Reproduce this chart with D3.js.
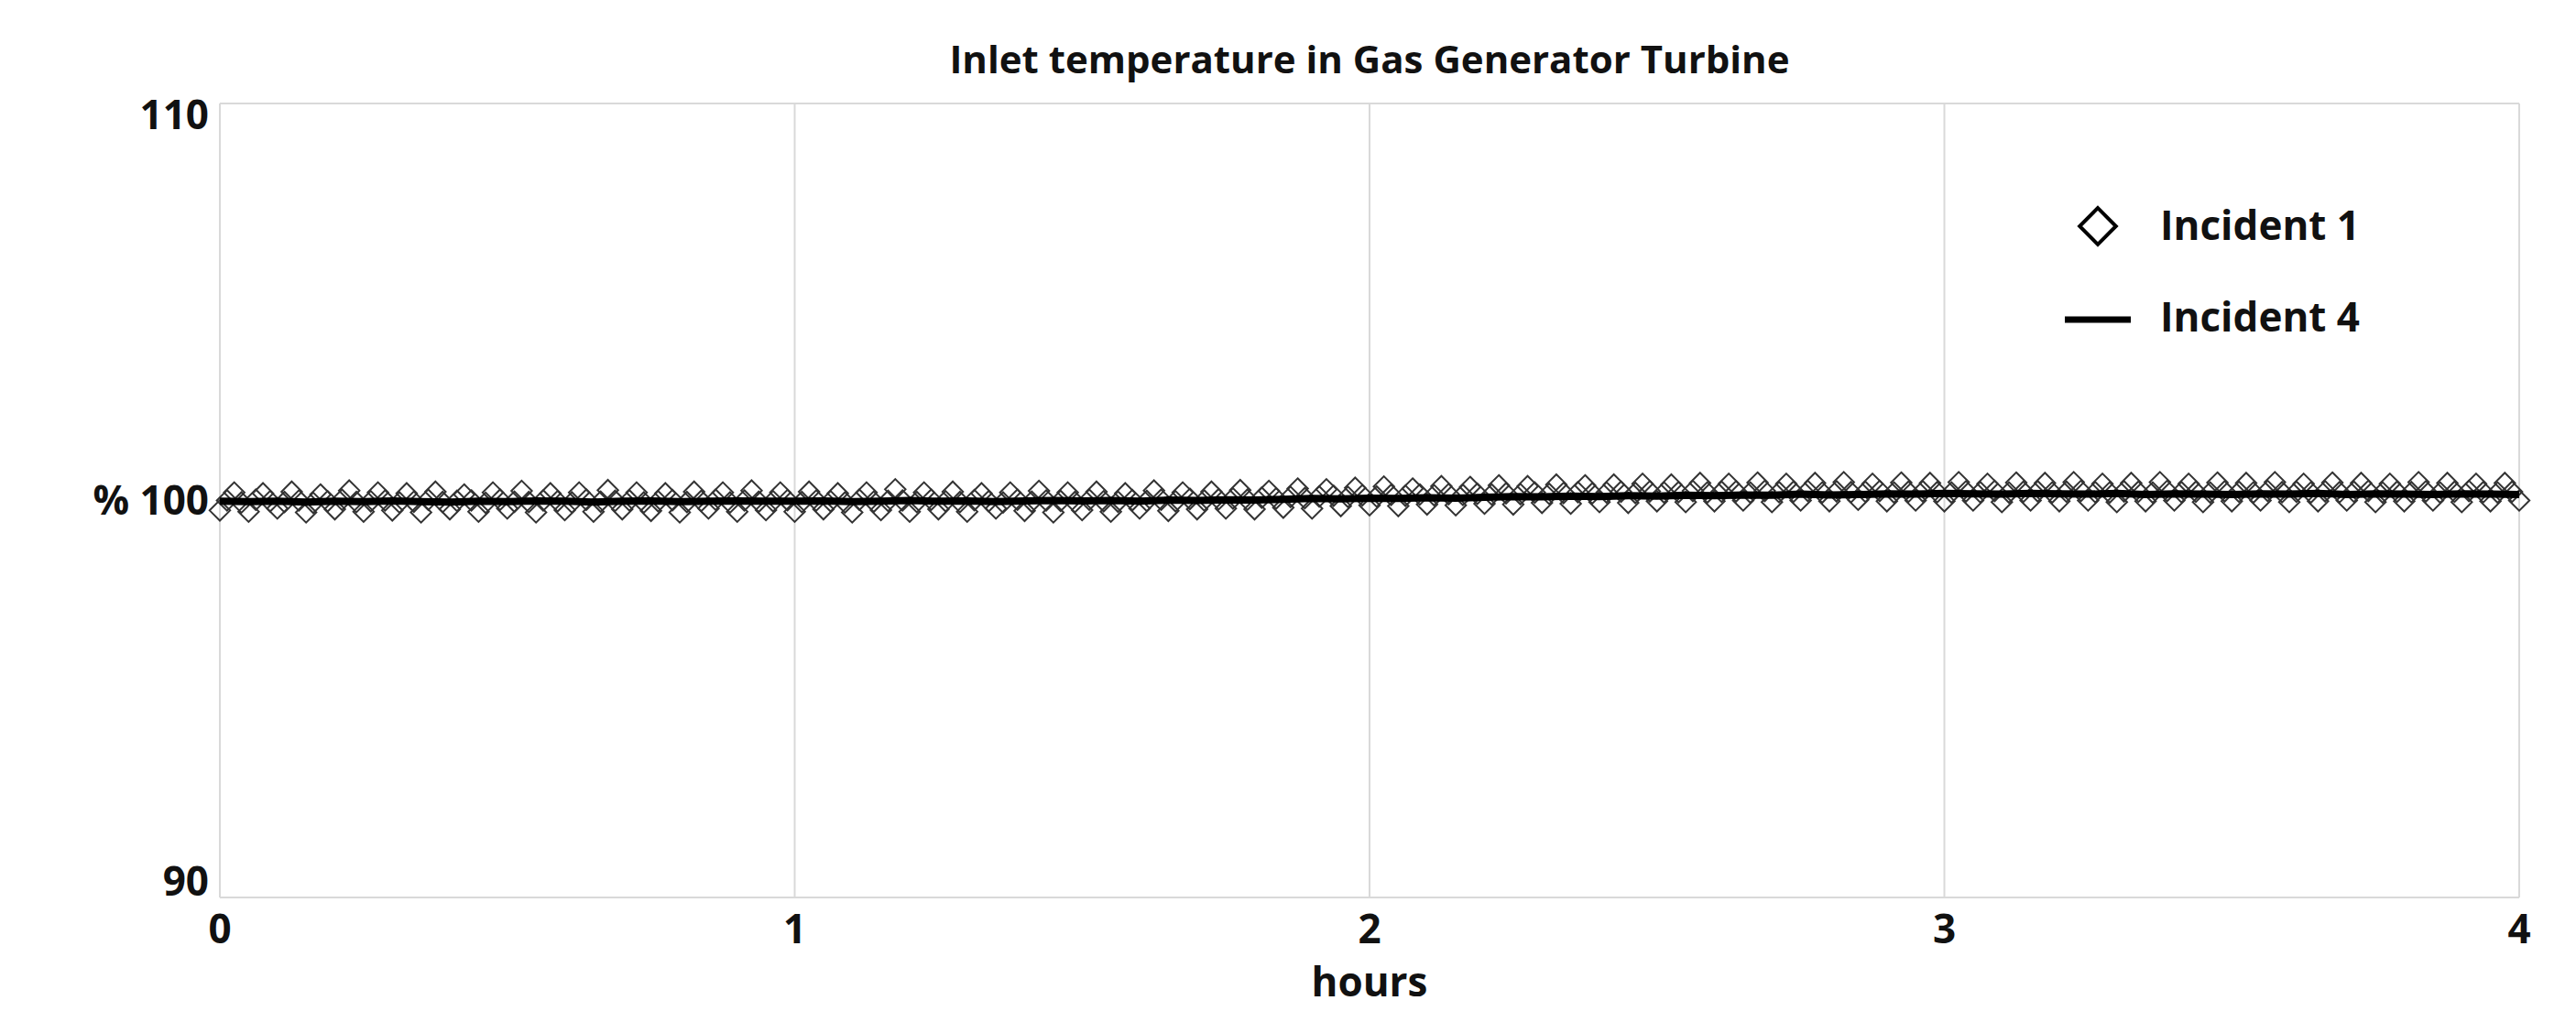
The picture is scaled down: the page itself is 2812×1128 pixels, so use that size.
<!DOCTYPE html>
<html>
<head>
<meta charset="utf-8">
<script src="https://cdn.jsdelivr.net/npm/d3@7"></script>
<style>
  body { margin: 0; background: #fff; }
  text { font-family: "Open Sans", "Noto Sans", sans-serif; font-weight: bold; fill: #111; }
</style>
</head>
<body>
<svg id="chart" width="2812" height="1128"></svg>
<script>
/// Incident 1 readings (diamonds), one every 0.025 hours
var incident1 = [
  99.75,100.2,99.72,100.18,99.8,100.22,99.7,100.15,99.78,100.25,
  99.72,100.2,99.75,100.18,99.7,100.22,99.78,100.15,99.72,100.2,
  99.8,100.24,99.7,100.18,99.76,100.2,99.72,100.26,99.78,100.2,
  99.74,100.18,99.7,100.22,99.8,100.2,99.72,100.25,99.76,100.2,
  99.72,100.22,99.78,100.18,99.7,100.2,99.76,100.28,99.72,100.2,
  99.78,100.22,99.72,100.18,99.8,100.2,99.74,100.24,99.7,100.2,
  99.76,100.22,99.72,100.18,99.8,100.25,99.74,100.2,99.78,100.22,
  99.8,100.26,99.78,100.24,99.82,100.3,99.8,100.28,99.86,100.32,
  99.88,100.35,99.86,100.3,99.9,100.36,99.88,100.34,99.92,100.38,
  99.9,100.36,99.94,100.4,99.92,100.38,99.96,100.4,99.94,100.42,
  99.98,100.4,99.96,100.44,99.98,100.42,100.0,100.45,99.96,100.42,
  100.0,100.44,99.98,100.46,100.02,100.42,99.98,100.45,100.0,100.44,
  99.98,100.46,100.0,100.42,99.96,100.45,100.0,100.44,99.98,100.46,
  100.0,100.42,99.96,100.44,99.98,100.46,100.0,100.42,99.96,100.45,
  99.98,100.44,100.0,100.46,99.96,100.42,99.98,100.45,100.0,100.44,
  99.96,100.42,99.98,100.46,100.0,100.44,99.96,100.42,99.98,100.44,
  100.0
];
/// Incident 1 readings taken half way between the ones above
var incident1Mid = [
  100.0,99.95,100.02,99.98,99.96,100.0,99.94,99.98,100.02,99.96,
  99.98,100.0,99.95,99.97,100.02,99.96,99.99,100.0,99.94,100.02,
  99.97,99.96,100.0,99.98,99.95,100.02,99.97,99.99,100.0,99.95,
  99.98,100.01,99.96,99.99,100.02,99.95,100.0,99.97,99.98,100.01,
  99.96,100.0,99.98,99.95,100.02,99.97,99.99,100.0,99.96,100.02,
  99.98,99.96,100.01,99.98,99.95,100.02,99.97,100.0,99.99,99.96,
  100.02,99.98,99.97,100.01,99.99,100.02,99.98,100.04,100.0,100.03,
  100.05,100.02,100.07,100.05,100.09,100.06,100.1,100.12,100.09,100.13,
  100.1,100.14,100.12,100.15,100.13,100.16,100.14,100.17,100.15,100.18,
  100.16,100.2,100.17,100.19,100.21,100.18,100.2,100.22,100.19,100.23,
  100.2,100.21,100.24,100.2,100.22,100.23,100.2,100.24,100.21,100.22,
  100.24,100.2,100.23,100.21,100.22,100.24,100.2,100.22,100.23,100.21,
  100.2,100.23,100.21,100.24,100.2,100.22,100.23,100.2,100.22,100.24,
  100.21,100.2,100.23,100.22,100.2,100.24,100.21,100.22,100.2,100.23,
  100.22,100.2,100.24,100.21,100.22,100.2,100.23,100.21,100.22,100.24,
  100.2,100.22,100.21,100.23,100.2,100.22,100.24,100.21,100.2,100.22
];
var incident1Step = 0.025;

/// Incident 4 readings (solid line), one every 0.05 hours
var incident4 = [
  99.98,99.97,99.98,99.96,99.98,99.97,99.99,99.97,99.96,99.98,
  99.97,99.99,99.98,99.96,99.98,99.99,99.97,99.98,99.99,99.98,
  99.98,99.99,99.97,99.98,100.0,99.98,99.99,99.97,99.99,100.0,
  99.99,100.0,99.98,100.01,100.0,100.02,100.01,100.03,100.05,100.04,
  100.06,100.05,100.07,100.06,100.08,100.1,100.09,100.11,100.1,100.12,
  100.11,100.13,100.12,100.14,100.13,100.16,100.14,100.15,100.17,100.16,
  100.18,100.17,100.16,100.18,100.17,100.16,100.18,100.15,100.17,100.16,
  100.15,100.17,100.16,100.18,100.15,100.17,100.16,100.15,100.17,100.16,
  100.15
];
var incident4Step = 0.05;

var xTicks = [0, 1, 2, 3, 4];
var yTicks = [90, 100, 110];
var yTickLabels = ["90", "% 100", "110"];
var seriesNames = ["Incident 1", "Incident 4"];

var margin = {left: 240, right: 62, top: 113, bottom: 148};
var svg = d3.select("#chart");
var W = 2812, H = 1128;

var x = d3.scaleLinear().domain([0, 4]).range([margin.left, W - margin.right]);
var y = d3.scaleLinear().domain([90, 110]).range([H - margin.bottom, margin.top]);

/// grid lines
svg.selectAll(".vgrid").data(xTicks).enter().append("line")
  .attr("x1", d => x(d)).attr("x2", d => x(d))
  .attr("y1", y(110)).attr("y2", y(90))
  .attr("stroke", "#d9d9d9").attr("stroke-width", 2);
svg.selectAll(".hgrid").data([90, 110]).enter().append("line")
  .attr("x1", x(0)).attr("x2", x(4))
  .attr("y1", d => y(d)).attr("y2", d => y(d))
  .attr("stroke", "#d9d9d9").attr("stroke-width", 2);

/// axis labels
svg.selectAll(".xlab").data(xTicks).enter().append("text")
  .attr("x", d => x(d)).attr("y", y(90) + 50)
  .attr("text-anchor", "middle").attr("font-size", 44).text(d => d);
svg.selectAll(".ylab").data(yTicks).enter().append("text")
  .attr("x", x(0) - 12)
  .attr("y", d => y(d) + (d === 90 ? -2 : d === 110 ? 28 : 15))
  .attr("text-anchor", "end").attr("font-size", 44)
  .text((d, i) => yTickLabels[i]);
svg.append("text").attr("x", (x(0) + x(4)) / 2).attr("y", 1088)
  .attr("text-anchor", "middle").attr("font-size", 44).text("hours");
svg.append("text").attr("x", (x(0) + x(4)) / 2).attr("y", 80)
  .attr("text-anchor", "middle").attr("font-size", 42).text("Inlet temperature in Gas Generator Turbine");

/// diamonds for Incident 1
var diamond = d3.symbol().type(d3.symbolDiamond2).size(320);
function drawDiamonds(values, offset) {
  svg.append("g").selectAll("path").data(values).enter().append("path")
    .attr("d", diamond)
    .attr("transform", (d, i) => "translate(" + x((i + offset) * incident1Step) + "," + y(d) + ")")
    .attr("fill", "none").attr("stroke", "#333").attr("stroke-width", 2);
}
drawDiamonds(incident1, 0);
drawDiamonds(incident1Mid, 0.5);

/// line for Incident 4
var line = d3.line().x((d, i) => x(i * incident4Step)).y(d => y(d));
svg.append("path").datum(incident4).attr("d", line)
  .attr("fill", "none").attr("stroke", "#000").attr("stroke-width", 8);

/// legend
svg.append("path").attr("d", d3.symbol().type(d3.symbolDiamond2).size(1000))
  .attr("transform", "translate(2290,247)")
  .attr("fill", "none").attr("stroke", "#000").attr("stroke-width", 4);
svg.append("line").attr("x1", 2254).attr("x2", 2326).attr("y1", 349).attr("y2", 349)
  .attr("stroke", "#000").attr("stroke-width", 7);
svg.selectAll(".leg").data(seriesNames).enter().append("text")
  .attr("x", 2358).attr("y", (d, i) => 262 + i * 100)
  .attr("font-size", 44).text(d => d);
</script>
</body>
</html>
